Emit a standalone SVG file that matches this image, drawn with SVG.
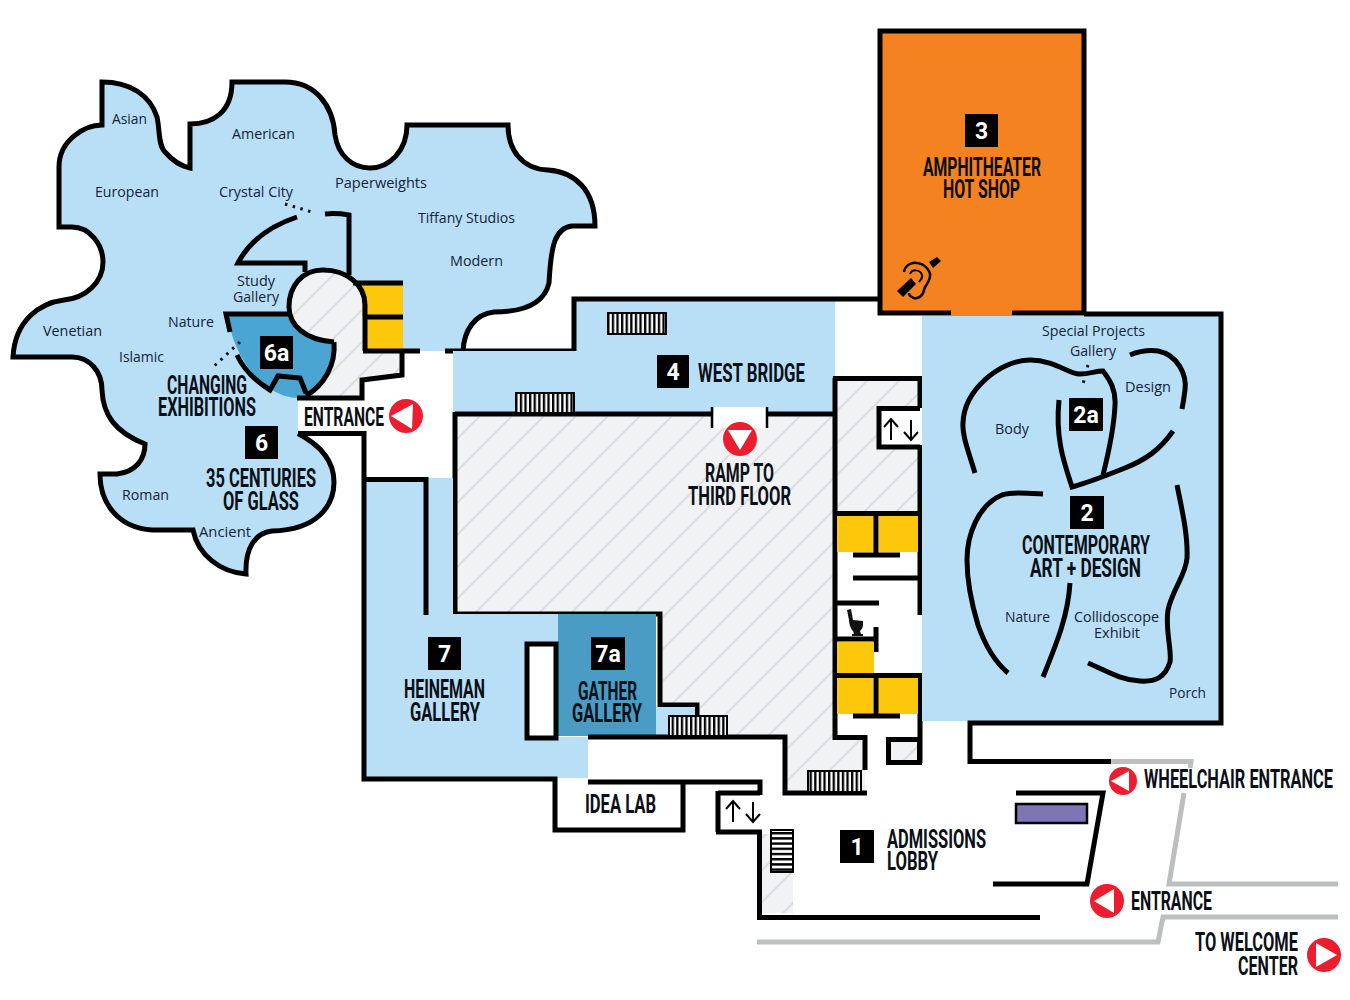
<svg xmlns="http://www.w3.org/2000/svg" width="1350" height="1000" viewBox="0 0 1350 1000">
<style>
.w{fill:none;stroke:#000;stroke-width:5;stroke-linejoin:miter}
.c{fill:none;stroke:#000;stroke-width:5;stroke-linecap:butt}
.g{fill:none;stroke:#bcbec0;stroke-width:5}
.d{fill:none;stroke:#111;stroke-width:3;stroke-dasharray:2.5 5.5}
.b{fill:#b8dff5}.y{fill:#fdc70c}.h{fill:url(#hatch)}.r{fill:#ed1c2e}.t{fill:#fff}
.st{stroke:#000;stroke-width:2}
text{font-family:"Liberation Sans Narrow","Roboto","Liberation Sans",sans-serif}
.H{font-size:25px;fill:#0b0f17;font-weight:700}
.L{font-family:"Open Sans","Noto Sans",sans-serif;font-size:15px;fill:#14233a}
.N{font-family:"Roboto","Liberation Sans",sans-serif;font-weight:700;font-size:23px;fill:#fff;text-anchor:middle}
.a{fill:none;stroke:#000;stroke-width:2}
</style>
<defs>
<pattern id="hatch" patternUnits="userSpaceOnUse" width="32" height="32">
<rect width="32" height="32" fill="#f1f2f4"/><path d="M-3,35L35,-3M-3,3L3,-3M29,35L35,29" stroke="#d9dadd" stroke-width="1.6" fill="none"/>
</pattern>
<pattern id="sv" patternUnits="userSpaceOnUse" width="4.600" height="6"><rect width="4.600" height="6" fill="#fff"/><rect width="2.300" height="6" fill="#000"/></pattern>
<pattern id="sh" patternUnits="userSpaceOnUse" width="6" height="5.200"><rect width="6" height="5.200" fill="#fff"/><rect width="6" height="2.400" fill="#000"/></pattern>
</defs>
<rect width="1350" height="1000" fill="#fff"/>

<g id="glass-wing">
<path class="b" d="M102,82C130,82 150,95 157,117C160,130 158,145 165,152C172,160 180,166 190,168L190,124C213,124 232,112 232,82L285,82C315,82 333,105 335,135C338,155 352,168 370,168C390,168 407,150 407,125L508,125C508,150 522,169 548,170C575,172 595,190 595,226L572,226C555,228 551,245 549,283C545,300 530,312 494,312C475,314 464,330 463,351L403,351L403,375L362,380L362,398L298,398L298,433C320,445 334,460 334,482C334,505 318,530 272,531C255,533 245,548 246,574C220,572 198,555 193,530L152,530C120,528 100,505 100,474L117,474C135,472 145,460 145,444C115,432 103,415 102,390C102,372 90,357 72,357L13,357C15,320 40,303 64,300C85,298 103,283 103,262C103,245 90,227 72,227L59,227L59,167C59,140 85,125 102,125Z"/>
<path class="w" d="M298,433.500C320,445 334,460 334,482C334,505 318,530 272,531C255,533 245,548 246,574C220,572 198,555 193,530L152,530C120,528 100,505 100,474L117,474C135,472 145,460 145,444C115,432 103,415 102,390C102,372 90,357 72,357L13,357C15,320 40,303 64,300C85,298 103,283 103,262C103,245 90,227 72,227L59,227L59,167C59,140 85,125 102,125L102,82C130,82 150,95 157,117C160,130 158,145 165,152C172,160 180,166 190,168L190,124C213,124 232,112 232,82L285,82C315,82 333,105 335,135C338,155 352,168 370,168C390,168 407,150 407,125L508,125C508,150 522,169 548,170C575,172 595,190 595,226L572,226C555,228 551,245 549,283C545,300 530,312 494,312C475,314 464,330 463,351"/>
<path class="h" d="M323,270C347,270 365,285 365,305L365,351L402,351L402,375L362,380L362,396L306,396C324,385 336,365 334,342C305,340 289,325 289,307C289,285 303,270 323,270Z"/>
<path fill="#4ba5d3" d="M226,314L288,314C291,328 310,342 334,342C336,365 324,385 306,396L298,398C290,398 280,395 272,390C255,380 240,360 232,335Z"/>
<rect class="y" x="362" y="285" width="41" height="31"/><rect class="y" x="367" y="319" width="36" height="30"/>
<path class="c" d="M297,217C270,226 250,240 238,263L305,263L305,272"/>
<path class="c" d="M325,214C335,213 343,214 349,215L349,275"/>
<path class="c" d="M334,342C305,340 289,325 289,307C289,285 303,270 323,270C347,270 365,285 365,305L365,351"/>
<path class="c" d="M230,332L226,314L288,314"/>
<path class="c" d="M237,355C244,370 257,382 270,390L278,376L300,378L306,393"/>
<path class="c" d="M334,342C336,365 324,385 306,396"/>
<path class="c" d="M353,283L403,283M365,317L403,317M363,351L420,351M445,351L574,351"/>
<path class="c" d="M402,351L402,375L362,380L362,398L297,398"/>
<path class="d" d="M285,204L312,212"/><path class="d" d="M240,342L212,368"/>
</g>

<g id="west-bridge">
<path class="b" d="M453,351L574,351L574,299L835,299L835,414L453,414Z"/>
<path class="c" d="M574,351L574,299L880,299"/>
<rect x="608" y="313" width="58" height="21" fill="url(#sv)" class="st"/>
</g>

<g id="ramp">
<path class="h" d="M455,414L835,414L835,737L865,737L865,793L785,793L785,737L697,737L697,705L658,705L658,614L455,614Z"/>
<rect x="714" y="407" width="52" height="21" fill="#fff"/>
<path class="c" d="M455,414L712,414M767,414L836,414"/>
<path class="c" d="M455,412L455,614L660,614L660,705L697,705L697,716"/>
<path stroke="#000" stroke-width="2.500" d="M712,407V428M767,407V428"/>
<rect x="516" y="393" width="58" height="20" fill="url(#sv)" class="st"/>
</g>

<g id="heineman">
<path class="b" d="M363,478L453,478L453,614L558,614L558,737L588,737L588,778L363,778Z"/>
<path fill="#4b9cc4" d="M558,614H656V736H558Z"/>
<path class="b" d="M656,707H695V736H656Z"/>
<rect x="527" y="644" width="29" height="94" fill="#fff" stroke="#000" stroke-width="5"/>
<path class="c" d="M298,433.500L364,433.500L364,779L555,779L555,830L683,830L683,782L588,782M683,782L760,782L760,795"/>
<path class="c" d="M366,479.500L426,479.500L426,615"/>
<path class="c" d="M588,737L785,737L785,793L867,793"/>
<rect x="669" y="716" width="58" height="20" fill="url(#sv)" class="st"/>
<rect x="808" y="771" width="53" height="21" fill="url(#sv)" class="st"/>
</g>

<g id="core">
<rect class="h" x="835" y="380" width="85" height="133"/>
<rect x="880" y="410" width="42" height="36" fill="#fff"/>
<path class="c" d="M833,378.500L920,378.500L920,408M920,408.500L879,408.500L879,447L920,447M920,445L920,615"/>
<path class="c" d="M835,378V740M833,737.500L865,737.500L865,770"/>
<path class="c" d="M835,513.500L920,513.500"/>
<rect class="y" x="837" y="516" width="37" height="36"/><rect class="y" x="879" y="516" width="39" height="36"/>
<path class="c" d="M876,513V555M853,555H900M853,578H920M835,603H879M876,627V652M835,639H876"/>
<rect class="y" x="837" y="642" width="37" height="32"/>
<path class="c" d="M835,675.500H920M920,673V763"/>
<rect class="y" x="837" y="678" width="36" height="36"/><rect class="y" x="878" y="678" width="40" height="36"/>
<path class="c" d="M876,675V716M853,716H900"/>
<rect x="888.500" y="739.500" width="31" height="23" class="h" stroke="#000" stroke-width="5"/>
<path fill="#111" d="M847,610L851,609L853,620L863,621L863,625C863,628 861,630 860,631L861,634H863V636H852V634H854L853,631C850,628 849,622 849,620Z"/>
<path class="a" d="M891,440V420M884,427L891,419L898,427M911,420V440M904,432L911,440L918,432"/>
</g>

<g id="contemporary">
<rect class="b" x="922" y="316" width="297" height="405"/>
<rect x="880" y="31" width="204" height="282" fill="#f58220" stroke="#000" stroke-width="5"/>
<path class="c" d="M1084,314L1221,314L1221,723L970,723L970,761.500L1114,761.500"/>
<rect x="951" y="310" width="61" height="6" fill="#f58220"/>
<g stroke-linecap="butt">
<path class="c" d="M975,473C968,450 962,435 963,423C964,390 1000,360 1030,360C1055,360 1070,375 1080,374C1090,374 1095,371 1103,371C1110,380 1116,390 1115,405C1114,430 1108,455 1103,475"/>
<path class="c" d="M1130,355C1140,351 1150,350 1158,351C1178,355 1187,375 1185,390C1184,398 1183,404 1182,409"/>
<path class="c" d="M1173,431C1160,450 1145,460 1125,468C1105,476 1090,482 1072,487C1065,465 1055,440 1059,400"/>
<path class="c" d="M1043,494C1025,493 1012,492 1002,495C978,505 967,535 967,560C967,585 972,605 978,625C985,645 995,662 1008,673"/>
<path class="c" d="M1070,583C1068,615 1058,640 1043,677"/>
<path class="c" d="M1177,485C1182,510 1188,535 1187,558C1186,575 1172,590 1168,610C1165,630 1172,650 1170,662C1165,678 1155,682 1140,681C1120,680 1105,670 1088,663"/>
</g>
<path class="d" d="M1088,365L1082,388"/>
</g>

<g id="lobby">
<path class="c" d="M718,793H760M718,791V832M716,832H762M759.500,830V918M757,917.500H1040"/>
<path class="c" d="M1016,793H1103L1087,884H993"/>
<rect x="1016" y="804" width="71" height="19" fill="#7d75b6" stroke="#000" stroke-width="2.500"/>
<rect class="h" x="762" y="834" width="31" height="79"/>
<rect x="771" y="830" width="22" height="42" fill="url(#sh)" class="st"/>
<path class="a" d="M733,822V802M726,809L733,801L740,809M753,802V822M746,814L753,822L760,814"/>
<path class="g" d="M757,942H1158L1163,917H1338"/>
<path class="g" d="M1338,884H1169L1184,793"/>
<path class="g" d="M1111,761.500H1191L1190,768"/>
</g>

<g id="ear-icon">
<path fill="none" stroke="#000" stroke-width="2.500" d="M904,272C905,265 912,262 917,263C926,264 931,272 930,277C929,283 925,285 924,290C923,296 918,299 914,298C911,297 909,295 909,293"/>
<path fill="none" stroke="#000" stroke-width="2" d="M910,274C912,269 920,269 922,275C923,279 920,280 919,282"/>
<path fill="#000" d="M897,291L911,278L916,284L903,297Z"/>
<path fill="#000" d="M929,262L937,257L941,261L933,268Z"/>
</g>

<g id="markers">
<circle class="r" cx="406" cy="416" r="17"/><path class="t" d="M391,416L413,404L412,429Z"/>
<circle class="r" cx="740" cy="439" r="17"/><path class="t" d="M728,430H752L740,450Z"/>
<circle class="r" cx="1123" cy="781" r="14"/><path class="t" d="M1111,781L1129,771L1129,791Z"/>
<circle class="r" cx="1107" cy="901" r="17"/><path class="t" d="M1094,901L1114,889L1114,913Z"/>
<circle class="r" cx="1324" cy="955" r="17"/><path class="t" d="M1337,955L1316,943L1316,967Z"/>
</g>

<g id="numbers">
<rect x="965" y="114" width="33" height="33"/><text class="N" x="981.500" y="139">3</text>
<rect x="657" y="355" width="32" height="33"/><text class="N" x="673" y="380">4</text>
<rect x="260" y="336" width="33" height="33"/><text class="N" x="276.500" y="361">6a</text>
<rect x="245" y="426" width="33" height="33"/><text class="N" x="261.500" y="451">6</text>
<rect x="1069" y="398" width="34" height="33"/><text class="N" x="1086" y="423">2a</text>
<rect x="1070" y="496" width="34" height="33"/><text class="N" x="1087" y="521">2</text>
<rect x="428" y="637" width="33" height="33"/><text class="N" x="444.500" y="662">7</text>
<rect x="591" y="637" width="34" height="33"/><text class="N" x="608" y="662">7a</text>
<rect x="840" y="830" width="34" height="33"/><text class="N" x="857" y="855">1</text>
</g>

<g id="headings">
<text class="H" transform="translate(923 176) scale(.75 1)" textLength="157.300" lengthAdjust="spacingAndGlyphs">AMPHITHEATER</text>
<text class="H" transform="translate(943 198) scale(.75 1)" textLength="102.700" lengthAdjust="spacingAndGlyphs">HOT SHOP</text>
<text class="H" transform="translate(698 382) scale(.75 1)" textLength="142.700" lengthAdjust="spacingAndGlyphs">WEST BRIDGE</text>
<text class="H" transform="translate(705 482) scale(.75 1)" textLength="92" lengthAdjust="spacingAndGlyphs">RAMP TO</text>
<text class="H" transform="translate(688 505) scale(.75 1)" textLength="137.300" lengthAdjust="spacingAndGlyphs">THIRD FLOOR</text>
<text class="H" transform="translate(167 394) scale(.75 1)" textLength="106.700" lengthAdjust="spacingAndGlyphs">CHANGING</text>
<text class="H" transform="translate(158 416) scale(.75 1)" textLength="130.700" lengthAdjust="spacingAndGlyphs">EXHIBITIONS</text>
<text class="H" transform="translate(304 426) scale(.75 1)" textLength="106.700" lengthAdjust="spacingAndGlyphs">ENTRANCE</text>
<text class="H" transform="translate(206 487) scale(.75 1)" textLength="146.700" lengthAdjust="spacingAndGlyphs">35 CENTURIES</text>
<text class="H" transform="translate(223 510) scale(.75 1)" textLength="101.300" lengthAdjust="spacingAndGlyphs">OF GLASS</text>
<text class="H" transform="translate(1022 554) scale(.75 1)" textLength="170.700" lengthAdjust="spacingAndGlyphs">CONTEMPORARY</text>
<text class="H" transform="translate(1030 577) scale(.75 1)" textLength="148" lengthAdjust="spacingAndGlyphs">ART + DESIGN</text>
<text class="H" transform="translate(404 698) scale(.75 1)" textLength="108" lengthAdjust="spacingAndGlyphs">HEINEMAN</text>
<text class="H" transform="translate(410 721) scale(.75 1)" textLength="93.300" lengthAdjust="spacingAndGlyphs">GALLERY</text>
<text class="H" transform="translate(578 700) scale(.75 1)" textLength="78.700" lengthAdjust="spacingAndGlyphs">GATHER</text>
<text class="H" transform="translate(572 722) scale(.75 1)" textLength="93.300" lengthAdjust="spacingAndGlyphs">GALLERY</text>
<text class="H" transform="translate(585 813) scale(.75 1)" textLength="94.700" lengthAdjust="spacingAndGlyphs">IDEA LAB</text>
<text class="H" transform="translate(887 848) scale(.75 1)" textLength="132" lengthAdjust="spacingAndGlyphs">ADMISSIONS</text>
<text class="H" transform="translate(887 870) scale(.75 1)" textLength="68" lengthAdjust="spacingAndGlyphs">LOBBY</text>
<text class="H" transform="translate(1144 788) scale(.75 1)" textLength="252" lengthAdjust="spacingAndGlyphs">WHEELCHAIR ENTRANCE</text>
<text class="H" transform="translate(1131 910) scale(.75 1)" textLength="108" lengthAdjust="spacingAndGlyphs">ENTRANCE</text>
<text class="H" transform="translate(1195 951) scale(.75 1)" textLength="137.300" lengthAdjust="spacingAndGlyphs">TO WELCOME</text>
<text class="H" transform="translate(1238 975) scale(.75 1)" textLength="80" lengthAdjust="spacingAndGlyphs">CENTER</text>
</g>

<g id="labels">
<text class="L" x="112" y="124" textLength="35" lengthAdjust="spacingAndGlyphs">Asian</text>
<text class="L" x="232" y="139" textLength="63" lengthAdjust="spacingAndGlyphs">American</text>
<text class="L" x="95" y="197" textLength="64" lengthAdjust="spacingAndGlyphs">European</text>
<text class="L" x="219" y="197" textLength="74" lengthAdjust="spacingAndGlyphs">Crystal City</text>
<text class="L" x="335" y="188" textLength="92" lengthAdjust="spacingAndGlyphs">Paperweights</text>
<text class="L" x="418" y="223" textLength="97" lengthAdjust="spacingAndGlyphs">Tiffany Studios</text>
<text class="L" x="450" y="266" textLength="53" lengthAdjust="spacingAndGlyphs">Modern</text>
<text class="L" x="237" y="286" textLength="38" lengthAdjust="spacingAndGlyphs">Study</text>
<text class="L" x="233" y="302" textLength="46" lengthAdjust="spacingAndGlyphs">Gallery</text>
<text class="L" x="168" y="327" textLength="46" lengthAdjust="spacingAndGlyphs">Nature</text>
<text class="L" x="43" y="336" textLength="59" lengthAdjust="spacingAndGlyphs">Venetian</text>
<text class="L" x="119" y="362" textLength="45" lengthAdjust="spacingAndGlyphs">Islamic</text>
<text class="L" x="122" y="500" textLength="47" lengthAdjust="spacingAndGlyphs">Roman</text>
<text class="L" x="199" y="537" textLength="52" lengthAdjust="spacingAndGlyphs">Ancient</text>
<text class="L" x="1042" y="336" textLength="103" lengthAdjust="spacingAndGlyphs">Special Projects</text>
<text class="L" x="1070" y="356" textLength="46" lengthAdjust="spacingAndGlyphs">Gallery</text>
<text class="L" x="1125" y="392" textLength="46" lengthAdjust="spacingAndGlyphs">Design</text>
<text class="L" x="995" y="434" textLength="34" lengthAdjust="spacingAndGlyphs">Body</text>
<text class="L" x="1005" y="622" textLength="45" lengthAdjust="spacingAndGlyphs">Nature</text>
<text class="L" x="1074" y="622" textLength="85" lengthAdjust="spacingAndGlyphs">Collidoscope</text>
<text class="L" x="1094" y="638" textLength="46" lengthAdjust="spacingAndGlyphs">Exhibit</text>
<text class="L" x="1169" y="698" textLength="37" lengthAdjust="spacingAndGlyphs">Porch</text>
</g>
</svg>
